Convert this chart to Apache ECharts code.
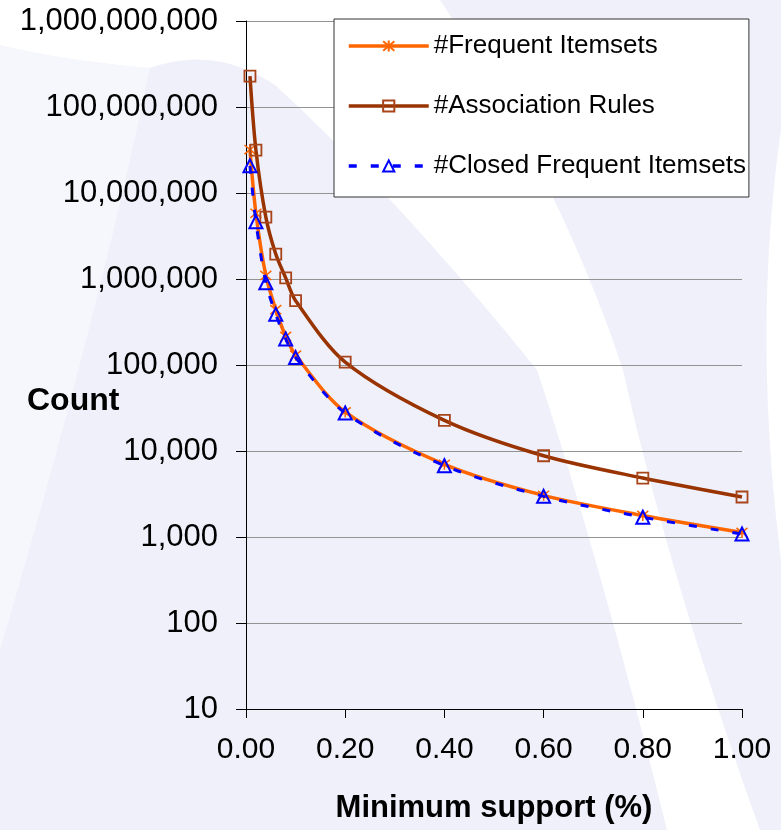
<!DOCTYPE html>
<html>
<head>
<meta charset="utf-8">
<title>Count vs. minimum support</title>
<script src="https://cdn.jsdelivr.net/npm/echarts@6/dist/echarts.min.js"></script>
<style>
  html, body { margin: 0; padding: 0; background: #eff0fa; }
  #chart { width: 781px; height: 830px; }
</style>
</head>
<body>
<div id="chart"></div>
<script>
// Minimum support (%) at which each count was measured
const support = [0.008, 0.02, 0.04, 0.06, 0.08, 0.1, 0.2, 0.4, 0.6, 0.8, 1.0];

// Counts per support level
const frequentItemsets = [32000000, 5800000, 1100000, 440000, 215000, 130000, 28500, 7000, 3050, 1780, 1130];
const associationRules = [228000000, 31500000, 5250000, 1950000, 1030000, 560000, 108000, 22700, 8800, 4850, 2920];
const closedItemsets = [20700000, 4630000, 906000, 389000, 201000, 122000, 27700, 6750, 2970, 1700, 1085];

const seriesNames = ['#Frequent Itemsets', '#Association Rules', '#Closed Frequent Itemsets'];
const xTickStep = 0.2;

const pairs = (ys) => support.map((x, i) => [x, ys[i]]);
const FONT = '"Liberation Sans", Arial, Helvetica, sans-serif';

// asterisk marker: an X with a vertical stroke
const asterisk = 'path://M0,0L10,10M10,0L0,10M5,-1L5,11';

// Background decoration: outline given as a start point followed by
// [controlX, controlY, endX, endY] quadratic segments, flattened to a polygon.
function swoosh(start, segs) {
  const pts = [start];
  let [px, py] = start;
  segs.forEach(([cx, cy, ex, ey]) => {
    for (let t = 1; t <= 20; t++) {
      const u = t / 20, a = (1 - u) * (1 - u), b = 2 * u * (1 - u), c = u * u;
      pts.push([a * px + b * cx + c * ex, a * py + b * cy + c * ey]);
    }
    px = ex; py = ey;
  });
  return pts;
}
const to = (x, y) => [x, y, x, y];

const bgShapes = [
  // faint lighter sweep down the left edge of the arch
  { fill: 'rgba(255,255,255,0.45)', pts: swoosh([0, 45], [[60, 60, 150, 68], [95, 330, 0, 650]]) },
  // white surround above and to the right of the lavender arch
  { fill: '#ffffff', pts: swoosh([0, 0], [
      to(0, 45), [60, 60, 150, 68], [215, 45, 275, 85], [400, 200, 537, 370],
      [600, 560, 667, 830], to(760, 830), [670, 580, 623, 370], [560, 180, 440, 0]]) },
  // narrow white strip along the right edge
  { fill: '#ffffff', pts: swoosh([781, 130], [[752, 330, 781, 560]]) }
];

const chart = echarts.init(document.getElementById('chart'), null, { renderer: 'canvas' });

chart.setOption({
  backgroundColor: '#eff0fa',
  textStyle: { fontFamily: FONT },
  animation: false,
  graphic: bgShapes.map((s) => ({
    type: 'polygon', z: -10, silent: true,
    shape: { points: s.pts },
    style: { fill: s.fill }
  })),
  title: {
    text: 'Count',
    left: 27,
    top: 385,
    padding: 0,
    textStyle: { fontFamily: FONT, fontSize: 32, fontWeight: 'bold', color: '#000' }
  },
  legend: {
    orient: 'vertical',
    left: 334,
    top: 19,
    data: seriesNames,
    backgroundColor: '#ffffff',
    borderColor: '#333333',
    borderWidth: 1,
    padding: [14, 3, 18, 13],
    itemGap: 34,
    itemWidth: 80,
    itemHeight: 14,
    lineStyle: { width: 3.5 },
    textStyle: { fontFamily: FONT, fontSize: 26, color: '#000' },
    selectedMode: false
  },
  grid: { left: 246, right: 39, top: 21, bottom: 121, containLabel: false },
  xAxis: {
    type: 'value',
    min: 0,
    max: 1,
    interval: xTickStep,
    name: 'Minimum support (%)',
    nameLocation: 'middle',
    nameGap: 84,
    nameTextStyle: { fontFamily: FONT, fontSize: 31, fontWeight: 'bold', color: '#000' },
    axisLine: { show: true, onZero: false, lineStyle: { color: '#000', width: 1 } },
    axisTick: { show: true, length: 9, lineStyle: { color: '#000' } },
    axisLabel: {
      fontFamily: FONT, fontSize: 30, color: '#000', margin: 26,
      formatter: (v) => v.toFixed(2)
    },
    splitLine: { show: false }
  },
  yAxis: {
    type: 'log',
    logBase: 10,
    min: 10,
    max: 1000000000,
    axisLine: { show: true, lineStyle: { color: '#000', width: 1 } },
    axisTick: { show: true, length: 10, lineStyle: { color: '#000' } },
    axisLabel: {
      fontFamily: FONT, fontSize: 31, color: '#000', margin: 28,
      formatter: (v) => Math.round(v).toLocaleString('en-US')
    },
    splitLine: { show: true, lineStyle: { color: '#939393', width: 1 } }
  },
  series: [
    {
      name: seriesNames[0],
      type: 'line',
      data: pairs(frequentItemsets),
      smooth: 0.3,
      z: 2,
      symbol: asterisk,
      symbolSize: 11,
      lineStyle: { color: '#ff6600', width: 3.5 },
      itemStyle: { color: '#ff6600', borderColor: '#ff6600', borderWidth: 1.5 }
    },
    {
      name: seriesNames[1],
      type: 'line',
      data: pairs(associationRules),
      smooth: 0.3,
      z: 3,
      symbol: 'rect',
      symbolSize: 11,
      lineStyle: { color: '#993300', width: 3.5 },
      itemStyle: { color: 'rgba(0,0,0,0)', borderColor: '#a8441a', borderWidth: 1.8 }
    },
    {
      name: seriesNames[2],
      type: 'line',
      data: pairs(closedItemsets),
      smooth: 0.3,
      z: 4,
      symbol: 'triangle',
      symbolSize: 13,
      lineStyle: { color: '#0000ff', width: 3, type: [8, 14] },
      itemStyle: { color: 'rgba(0,0,0,0)', borderColor: '#0000ff', borderWidth: 2 }
    }
  ]
});
</script>
</body>
</html>
